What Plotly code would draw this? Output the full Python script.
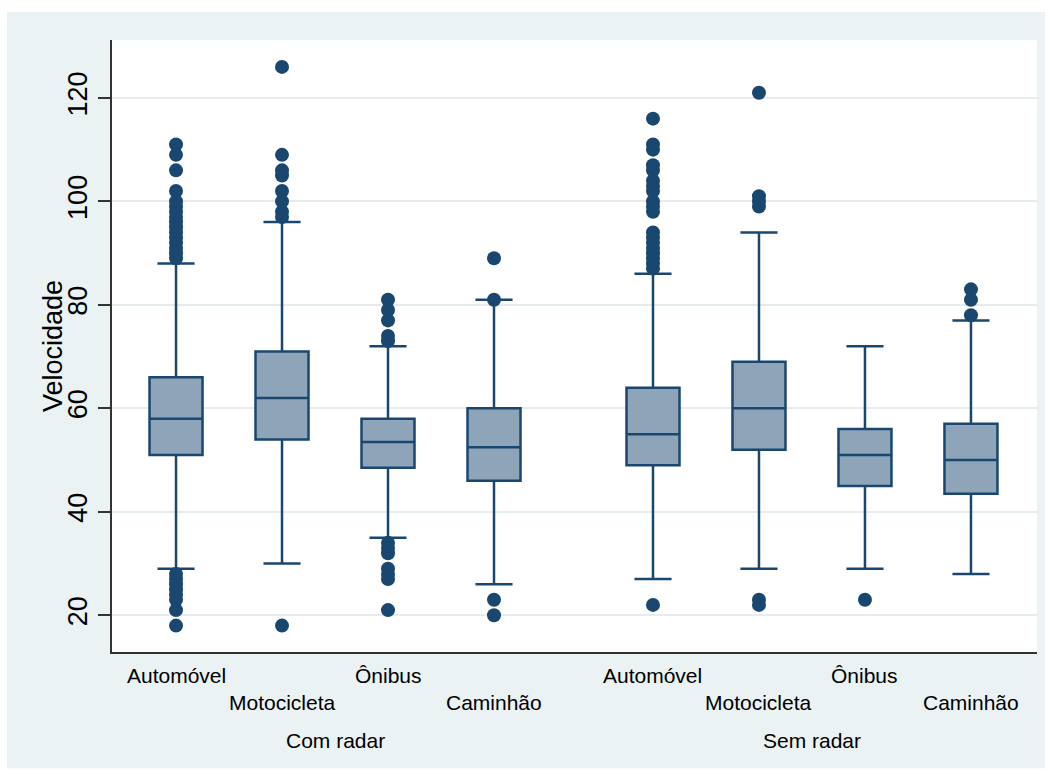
import plotly.graph_objects as go

# --- data -------------------------------------------------------------
groups = ["Com radar", "Sem radar"]
vehicles = ["Automóvel", "Motocicleta", "Ônibus", "Caminhão"]

# summary statistics, order: Com radar (4 vehicles), Sem radar (4 vehicles)
q1 = [51, 54, 48.5, 46, 49, 52, 45, 43.5]
median = [58, 62, 53.5, 52.5, 55, 60, 51, 50]
q3 = [66, 71, 58, 60, 64, 69, 56, 57]
lower_whisker = [29, 30, 35, 26, 27, 29, 29, 28]
upper_whisker = [88, 96, 72, 81, 86, 94, 72, 77]

outliers = [
    [89, 90, 91, 92, 93, 94, 95, 96, 97, 98, 99, 100, 102, 106, 109, 111,
     28, 27, 26, 25, 24, 23, 21, 18],
    [97, 98, 100, 102, 105, 106, 109, 126, 18],
    [73, 74, 77, 79, 81, 34, 33, 32, 29, 28, 27, 21],
    [81, 89, 23, 20],
    [87, 88, 89, 90, 91, 92, 93, 94, 98, 99, 100, 102, 103, 104, 106, 107,
     110, 111, 116, 22],
    [99, 100, 101, 121, 23, 22],
    [23],
    [78, 81, 83],
]

y_ticks = [20, 40, 60, 80, 100, 120]
y_title = "Velocidade"

# --- styling ----------------------------------------------------------
NAVY = "#1A476F"
FILL = "#8DA4B9"
OUTER_BG = "#EAF2F3"
GRID = "#E4ECEF"
FONT = "Liberation Sans"

# position of each box on the numeric x axis (gap between the two groups)
positions = []
for g in range(len(groups)):
    for j in range(len(vehicles)):
        positions.append(j + 1 + g * 4.5)

fig = go.Figure()

fig.add_trace(go.Box(
    x=positions,
    q1=q1, median=median, q3=q3,
    lowerfence=lower_whisker, upperfence=upper_whisker,
    boxpoints=False,
    width=0.5,
    whiskerwidth=0.7,
    fillcolor=FILL,
    line=dict(color=NAVY, width=2.5),
    hoverinfo="skip",
    showlegend=False,
))

ox, oy = [], []
for p, vals in zip(positions, outliers):
    ox += [p] * len(vals)
    oy += vals
fig.add_trace(go.Scatter(
    x=ox, y=oy, mode="markers",
    marker=dict(color=NAVY, size=14, line=dict(width=0)),
    showlegend=False, hoverinfo="skip",
))

# category labels (staggered) and group labels under the axis
annotations = []
for i, p in enumerate(positions):
    j = i % len(vehicles)
    annotations.append(dict(
        x=p, y=0, xref="x", yref="paper",
        text=vehicles[j], showarrow=False,
        xanchor="center", yanchor="middle",
        yshift=-23 if j % 2 == 0 else -50,
        font=dict(family=FONT, size=21, color="#000000"),
    ))
for g, name in enumerate(groups):
    first = positions[g * len(vehicles)]
    last = positions[(g + 1) * len(vehicles) - 1]
    annotations.append(dict(
        x=(first + last) / 2, y=0, xref="x", yref="paper",
        text=name, showarrow=False,
        xanchor="center", yanchor="middle", yshift=-88,
        font=dict(family=FONT, size=21, color="#000000"),
    ))
# y axis title, placed close to the tick labels
annotations.append(dict(
    x=0, y=0.5, xref="paper", yref="paper",
    text=y_title, showarrow=False, textangle=-90,
    xanchor="center", yanchor="middle", xshift=-59,
    font=dict(family=FONT, size=27, color="#000000"),
))

shapes = [
    # light outer frame behind everything
    dict(type="rect", xref="paper", yref="paper",
         x0=-0.1135, x1=1.0086, y0=-0.190, y1=1.0458,
         fillcolor=OUTER_BG, line=dict(width=0), layer="below"),
    # white plotting region
    dict(type="rect", xref="paper", yref="paper",
         x0=0, x1=1, y0=0, y1=1,
         fillcolor="white", line=dict(width=0), layer="below"),
]

fig.update_layout(
    width=1051, height=774,
    margin=dict(l=112, r=14, t=40, b=122),
    paper_bgcolor="white",
    plot_bgcolor="white",
    font=dict(family=FONT, size=21, color="#000000"),
    annotations=annotations,
    shapes=shapes,
    xaxis=dict(
        range=[0.396, 9.123],
        showticklabels=False, ticks="",
        showgrid=False, zeroline=False,
        showline=True, linecolor="#333333", linewidth=2,
    ),
    yaxis=dict(
        range=[12.9, 131.2],
        tickvals=y_ticks,
        ticks="outside", ticklen=12, tickwidth=2, tickcolor="#333333",
        tickangle=-90,
        tickfont=dict(family=FONT, size=27, color="#000000"),
        showgrid=True, gridcolor=GRID, gridwidth=2,
        zeroline=False,
        showline=True, linecolor="#333333", linewidth=2,
    ),
)

fig.write_html("out.html")
